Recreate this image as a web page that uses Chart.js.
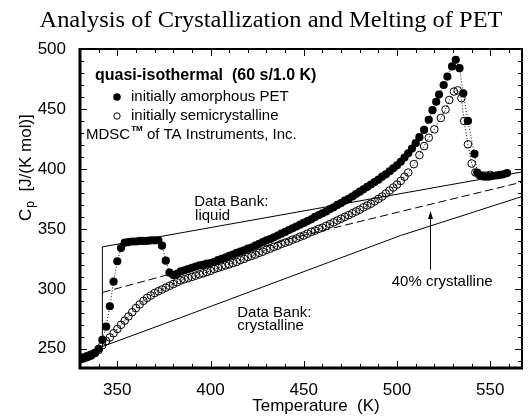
<!DOCTYPE html>
<html lang="en">
<head>
  <meta charset="UTF-8">
  <title>Crystallization and Melting of PET</title>
  <script src="https://cdn.jsdelivr.net/npm/chart.js"></script>
  <style>
    body { margin: 0; background: #fff; }
    canvas { display: block; }
  </style>
</head>
<body>
  <canvas id="cp-chart" width="528" height="416"></canvas>

  <script type="text/javascript" charset="utf-8">
    // quasi-isothermal MDSC runs, Cp in J/(K mol) vs temperature in K
    const amorphousT = [330, 332, 334, 336, 338, 340, 342, 344, 346, 348, 350, 352, 354, 356, 358, 360, 362, 364, 366, 368,
      370, 372, 374, 376, 378, 380, 382, 384, 386, 388, 390, 392, 394, 396, 398, 400, 402, 404, 406, 408,
      410, 412, 414, 416, 418, 420, 422, 424, 426, 428, 430, 432, 434, 436, 438, 440, 442, 444, 446, 448,
      450, 452, 454, 456, 458, 460, 462, 464, 466, 468, 470, 472, 474, 476, 478, 480, 482, 484, 486, 488,
      490, 492, 494, 496, 498, 500, 502, 504, 506, 508, 510, 512, 514.5, 517, 519, 521, 522.5, 525, 527, 529.5,
      531.5, 533.5, 535.5, 538, 541.5, 543, 545, 547, 549, 551, 553, 555, 557, 559];
    const amorphousCp = [241.5, 242.5, 243.5, 244.5, 246.5, 250, 257.5, 268.5, 285.5, 306, 323, 334, 338.5, 339, 339.5, 339.5, 340, 340, 340, 340.5,
      340.5, 340.5, 336, 323.5, 313.5, 311.5, 312.5, 314.5, 315.5, 316.5, 317.5, 318.5, 319.5, 320, 321, 321.5, 322.5, 324, 325, 326,
      327.5, 328.5, 330, 331, 332, 333.5, 334.5, 336, 337.5, 339, 340.5, 341.5, 343, 344.5, 346, 347.5, 349, 350.5, 352, 353.5,
      355, 356.5, 358, 360, 361.5, 363, 364.5, 366.5, 368, 370, 371.5, 373.5, 375, 377, 379, 381, 383, 385, 387, 389,
      391, 393.5, 395.5, 398, 400.5, 403, 406, 409.5, 413, 417, 421.5, 426.5, 432.5, 441, 449, 456, 462, 470, 477, 485.5,
      491, 484, 463, 440, 412.5, 397, 394, 393.5, 393.5, 394, 394.5, 395, 395.5, 396.5];

    const semicrystT = [330, 332, 334, 336, 338, 340, 342, 344, 346, 348, 350, 352, 354, 356, 358, 360, 362, 364, 366, 368,
      370, 372, 374, 376, 378, 380, 382, 384, 386, 388, 390, 392, 394, 396, 398, 400, 402, 404, 406, 408,
      410, 412, 414, 416, 418, 420, 422, 424, 426, 428, 430, 432, 434, 436, 438, 440, 442, 444, 446, 448,
      450, 452, 454, 456, 458, 460, 462, 464, 466, 468, 470, 472, 474, 476, 478, 480, 482, 484, 486, 488,
      490, 492, 494, 496, 498, 500, 502, 504, 506, 509, 512, 514.5, 517, 520, 523.5, 526, 528, 530.5, 532.5, 534.5,
      536, 538, 540, 542, 544, 546, 548, 550];
    const semicrystCp = [241, 242, 243, 244.5, 246.5, 249, 253, 256.5, 259.5, 263, 266.5, 270, 273.5, 277, 280.5, 284, 287, 290, 292.5, 294.5,
      296.5, 298, 299.5, 301, 302.5, 304, 305.5, 307, 308, 309, 310, 311, 312, 313, 314, 315, 316.5, 317.5, 318.5, 319.5,
      320.5, 321.5, 322.5, 324, 325, 326.5, 327.5, 328.5, 330, 331, 332.5, 333.5, 335, 336, 337.5, 338.5, 339.5, 341, 342, 343.5,
      344.5, 346, 347.5, 348.5, 350, 351, 352.5, 354, 355.5, 357, 358.5, 360, 361.5, 363, 364.5, 366, 368, 369.5, 371, 373,
      375, 377, 379.5, 382, 384.5, 387, 390, 393.5, 397, 404, 411.5, 419, 426, 433, 442.5, 449.5, 457.5, 464.5, 465.5, 459,
      440, 420.5, 404.5, 397, 395, 394.5, 394.5, 395];

    // ATHAS data bank baselines
    const liquidT = [342, 342, 567];
    const liquidCp = [251, 335, 397.5];
    const crystT = [330, 384, 427, 502, 567];
    const crystCp = [245, 276, 301, 344.5, 377];
    const pct40T = [342, 373, 443, 502, 567];
    const pct40Cp = [297, 310, 342, 364.5, 389];

    // axis labels
    const xMajor = [350, 400, 450, 500, 550];
    const yMajor = [250, 300, 350, 400, 450, 500];

    function pts(xs, ys) {
      return xs.map((x, i) => ({ x: x, y: ys[i] }));
    }

    const FONT = 'Arial, "Liberation Sans", sans-serif';

    // frame, inward ticks, title and annotations
    const decor = {
      id: 'decor',
      afterDraw(chart) {
        const ctx = chart.ctx;
        const a = chart.chartArea;
        const xs = chart.scales.x, ys = chart.scales.y;
        const px = v => xs.getPixelForValue(v);
        const py = v => ys.getPixelForValue(v);
        ctx.save();
        ctx.fillStyle = '#000';
        ctx.strokeStyle = '#000';

        // inward ticks on all four sides
        ctx.lineWidth = 1;
        ctx.beginPath();
        for (let v = 340; v < xs.max; v += 10) {
          const len = v % 50 === 0 ? 7 : 4;
          const x = Math.round(px(v)) + 0.5;
          ctx.moveTo(x, a.bottom); ctx.lineTo(x, a.bottom - len);
          ctx.moveTo(x, a.top); ctx.lineTo(x, a.top + len);
        }
        for (let v = 240; v < ys.max; v += 10) {
          const len = v % 50 === 0 ? 7 : 4;
          const y = Math.round(py(v)) + 0.5;
          ctx.moveTo(a.left, y); ctx.lineTo(a.left + len, y);
          ctx.moveTo(a.right, y); ctx.lineTo(a.right - len, y);
        }
        ctx.stroke();

        // frame: heavier on the two axes
        ctx.lineWidth = 2;
        ctx.beginPath();
        ctx.moveTo(a.left, a.top); ctx.lineTo(a.right, a.top); ctx.lineTo(a.right, a.bottom);
        ctx.stroke();
        ctx.lineWidth = 3;
        ctx.beginPath();
        ctx.moveTo(a.left, a.top - 1); ctx.lineTo(a.left, a.bottom); ctx.lineTo(a.right + 1, a.bottom);
        ctx.stroke();

        // title, narrow serif
        const title = 'Analysis of Crystallization and Melting of PET';
        ctx.font = '24px "Liberation Serif", serif';
        const w = ctx.measureText(title).width;
        ctx.save();
        ctx.translate(271, 27);
        ctx.scale(463 / w, 1);
        ctx.textAlign = 'center';
        ctx.textBaseline = 'alphabetic';
        ctx.fillText(title, 0, 0);
        ctx.restore();

        // axis titles
        ctx.textBaseline = 'middle';
        ctx.textAlign = 'center';
        ctx.font = '17px ' + FONT;
        ctx.fillText('Temperature  (K)', 316, 406);

        ctx.save();
        ctx.translate(26, 221);
        ctx.rotate(-Math.PI / 2);
        ctx.textAlign = 'left';
        ctx.font = '17px ' + FONT;
        ctx.fillText('C', 0, 0);
        let cx = ctx.measureText('C').width;
        ctx.font = '12px ' + FONT;
        ctx.fillText('p', cx + 1, 5);
        cx += ctx.measureText('p').width + 1;
        ctx.font = '17px ' + FONT;
        ctx.fillText('  [J/(K mol)]', cx, 0);
        ctx.restore();

        // legend block
        ctx.textAlign = 'left';
        ctx.font = 'bold 16px ' + FONT;
        ctx.fillText('quasi-isothermal  (60 s/1.0 K)', 95, 76);
        ctx.font = '15px ' + FONT;
        ctx.beginPath();
        ctx.arc(117, 97, 3.8, 0, Math.PI * 2);
        ctx.fill();
        ctx.fillText('initially amorphous PET', 131, 97);
        ctx.lineWidth = 1;
        ctx.beginPath();
        ctx.arc(117, 116, 3.2, 0, Math.PI * 2);
        ctx.stroke();
        ctx.fillText('initially semicrystalline', 131, 116);
        ctx.fillText('MDSC', 86, 135);
        let mx = 86 + ctx.measureText('MDSC').width;
        ctx.font = 'bold 8px ' + FONT;
        ctx.fillText('TM', mx + 1, 129);
        mx += ctx.measureText('TM').width + 1;
        ctx.font = '15px ' + FONT;
        ctx.fillText(' of TA Instruments, Inc.', mx, 135);

        // baseline labels
        ctx.fillText('Data Bank:', px(391.2), py(372.5));
        ctx.fillText('liquid', px(391.7), py(361));
        ctx.fillText('Data Bank:', px(414.3), py(280));
        ctx.fillText('crystalline', px(414.3), py(269));
        ctx.textAlign = 'center';
        ctx.fillText('40% crystalline', px(524.2), py(305.5));

        // arrow to the 40 % line
        const ax = Math.round(px(517.5)) + 0.5;
        const yTip = py(365), yTail = py(316);
        ctx.lineWidth = 1;
        ctx.beginPath();
        ctx.moveTo(ax, yTail);
        ctx.lineTo(ax, yTip + 6);
        ctx.stroke();
        ctx.beginPath();
        ctx.moveTo(ax, yTip);
        ctx.lineTo(ax - 2.5, yTip + 8);
        ctx.lineTo(ax + 2.5, yTip + 8);
        ctx.closePath();
        ctx.fill();

        ctx.restore();
      }
    };

    const tickFont = { family: FONT, size: 17 };

    new Chart(document.getElementById('cp-chart').getContext('2d'), {
      type: 'scatter',
      data: {
        datasets: [
          {
            label: 'initially amorphous PET',
            data: pts(amorphousT, amorphousCp),
            showLine: true,
            borderColor: '#000',
            borderWidth: 1,
            borderDash: [1, 2],
            pointRadius: 4.1,
            pointBackgroundColor: '#000',
            pointBorderWidth: 0
          },
          {
            label: 'initially semicrystalline',
            data: pts(semicrystT, semicrystCp),
            showLine: true,
            borderColor: '#000',
            borderWidth: 1,
            borderDash: [1, 2],
            pointRadius: 3.8,
            pointBackgroundColor: 'rgba(0,0,0,0)',
            pointBorderColor: '#000',
            pointBorderWidth: 1
          },
          {
            label: 'Data Bank: liquid',
            data: pts(liquidT, liquidCp),
            showLine: true,
            borderColor: '#000',
            borderWidth: 1,
            pointRadius: 0
          },
          {
            label: 'Data Bank: crystalline',
            data: pts(crystT, crystCp),
            showLine: true,
            borderColor: '#000',
            borderWidth: 1,
            pointRadius: 0
          },
          {
            label: '40% crystalline',
            data: pts(pct40T, pct40Cp),
            showLine: true,
            borderColor: '#000',
            borderWidth: 1,
            borderDash: [8, 4],
            pointRadius: 0
          }
        ]
      },
      options: {
        responsive: false,
        animation: false,
        devicePixelRatio: 1,
        layout: { padding: { top: 49, right: 6, left: 0, bottom: 0 } },
        plugins: {
          legend: { display: false },
          tooltip: { enabled: false },
          title: { display: false }
        },
        scales: {
          x: {
            type: 'linear',
            min: 330,
            max: 567,
            grid: { display: false },
            border: { display: false },
            ticks: { font: tickFont, color: '#000', padding: 4, maxRotation: 0, autoSkip: false },
            afterBuildTicks: s => { s.ticks = xMajor.map(v => ({ value: v })); },
            afterFit: s => { s.height = 48; }
          },
          y: {
            type: 'linear',
            min: 234,
            max: 500,
            grid: { display: false },
            border: { display: false },
            ticks: { font: tickFont, color: '#000', padding: 6, autoSkip: false },
            afterBuildTicks: s => { s.ticks = yMajor.map(v => ({ value: v })); },
            afterFit: s => { s.width = 80; }
          }
        }
      },
      plugins: [decor]
    });
  </script>
</body>
</html>
